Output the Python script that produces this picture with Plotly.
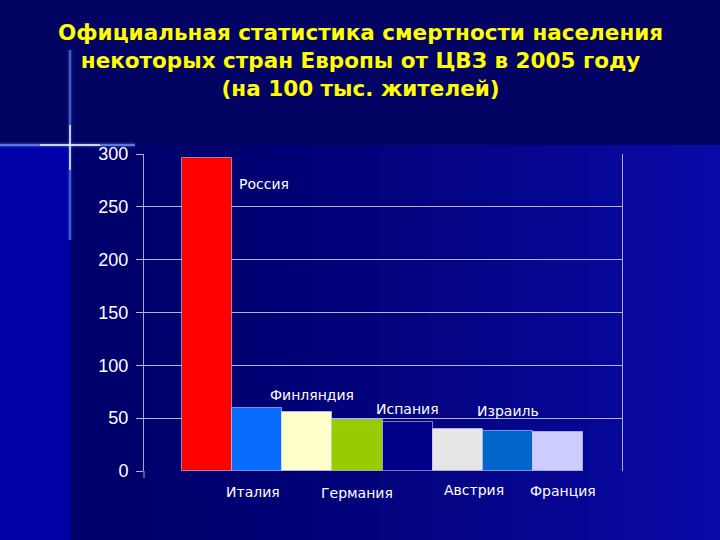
import plotly.graph_objects as go

# ---- data ----
countries = ["Россия", "Италия", "Финляндия", "Германия", "Испания", "Австрия", "Израиль", "Франция"]
values = [296, 60, 56, 48, 46, 40, 38, 37]
bar_colors = ["#FF0000", "#0A6CFF", "#FFFFCC", "#99CC00", "#000088", "#E6E6E6", "#0066CC", "#CCCCFF"]
y_ticks = [0, 50, 100, 150, 200, 250, 300]

# label placement (data units) for each country name
label_x = [1.13, 0.92, 2.09, 3.0, 4.0, 5.33, 6.0, 7.11]
label_y = [272, -20, 72, -21, 59, -18, 57, -19]

W, H = 720, 540
L, R, T, B = 144, 98, 154, 69
Y_MAX = 300

def px(xp):
    return (xp - L) / (W - L - R)

def py(yp):
    return (H - B - yp) / (H - T - B)

fig = go.Figure()
fig.add_trace(go.Bar(
    x=list(range(len(countries))), y=values,
    marker=dict(color=bar_colors, line=dict(color="rgba(220,220,255,0.55)", width=1)),
    width=1.0, hoverinfo="skip", showlegend=False,
))

shapes = []
# background: stepped gradient from dark navy to brighter blue on the right
n = 40
x0p, x1p = 70, 720
c0 = (0, 0, 108)
c1 = (10, 10, 168)
for i in range(n):
    a = x0p + (x1p - x0p) * i / n
    b = x0p + (x1p - x0p) * (i + 1) / n + 1
    t = (i / (n - 1)) ** 1.6
    col = "rgb(%d,%d,%d)" % tuple(int(c0[k] + (c1[k] - c0[k]) * t) for k in range(3))
    shapes.append(dict(type="rect", xref="paper", yref="paper", x0=px(a), x1=px(b),
                       y0=py(540), y1=py(145), fillcolor=col, line=dict(width=0), layer="below"))
# left brighter strip
shapes.append(dict(type="rect", xref="paper", yref="paper", x0=px(0), x1=px(70),
                   y0=py(540), y1=py(145), fillcolor="#0000A6", line=dict(width=0), layer="below"))
# top band
shapes.append(dict(type="rect", xref="paper", yref="paper", x0=px(0), x1=px(720),
                   y0=py(145), y1=py(0), fillcolor="#030364", line=dict(width=0), layer="below"))
# lens flare star
for (w, op) in [(7, 0.08), (4, 0.2), (2, 0.45), (1, 0.8)]:
    shapes.append(dict(type="line", xref="paper", yref="paper", x0=px(0), x1=px(135),
                       y0=py(145), y1=py(145), line=dict(color="rgba(120,160,255,%.2f)" % op, width=w), layer="below"))
    shapes.append(dict(type="line", xref="paper", yref="paper", x0=px(70), x1=px(70),
                       y0=py(50), y1=py(240), line=dict(color="rgba(100,140,255,%.2f)" % (op * 0.8), width=w), layer="below"))
shapes.append(dict(type="line", xref="paper", yref="paper", x0=px(40), x1=px(100),
                   y0=py(145), y1=py(145), line=dict(color="rgba(255,255,255,0.9)", width=1.5), layer="below"))
shapes.append(dict(type="line", xref="paper", yref="paper", x0=px(70), x1=px(70),
                   y0=py(125), y1=py(170), line=dict(color="rgba(255,255,255,0.9)", width=1.5), layer="below"))
# axis line extending slightly below zero
shapes.append(dict(type="line", xref="paper", yref="paper", x0=0, x1=0,
                   y0=py(478), y1=0, line=dict(color="#A8A8D0", width=1)))

annotations = []
for name, lx, ly in zip(countries, label_x, label_y):
    annotations.append(dict(x=lx, y=ly / Y_MAX, xref="x", yref="paper", text=name, showarrow=False,
                            font=dict(family="DejaVu Sans", size=14, color="white"),
                            xanchor="center", yanchor="middle"))

# title
annotations.append(dict(
    text="Официальная статистика смертности населения<br>некоторых стран Европы от ЦВЗ в 2005 году<br>(на 100 тыс. жителей)",
    x=px(360), y=py(60), xref="paper", yref="paper", xanchor="center", yanchor="middle",
    showarrow=False, align="center",
    font=dict(family="DejaVu Sans", size=21.5, color="#FFFF00", weight="bold"),
))

fig.update_layout(
    width=W, height=H,
    margin=dict(l=L, r=R, t=T, b=B),
    paper_bgcolor="#000070",
    plot_bgcolor="rgba(0,0,0,0)",
    bargap=0,
    xaxis=dict(range=[-1.26, 8.28], showticklabels=False, showgrid=False, zeroline=False,
               showline=False, ticks=""),
    yaxis=dict(range=[0, Y_MAX], tickvals=y_ticks, showgrid=True, gridcolor="#B4B4DC", gridwidth=1,
               zeroline=False, showline=True, linecolor="#A8A8D0", linewidth=1, mirror=True,
               ticks="outside", ticklen=7, tickcolor="#B4B4DC",
               tickfont=dict(family="Liberation Sans", size=18, color="white"),
               ticklabelstandoff=4),
    shapes=shapes,
    annotations=annotations,
)

fig.write_html("out.html")
